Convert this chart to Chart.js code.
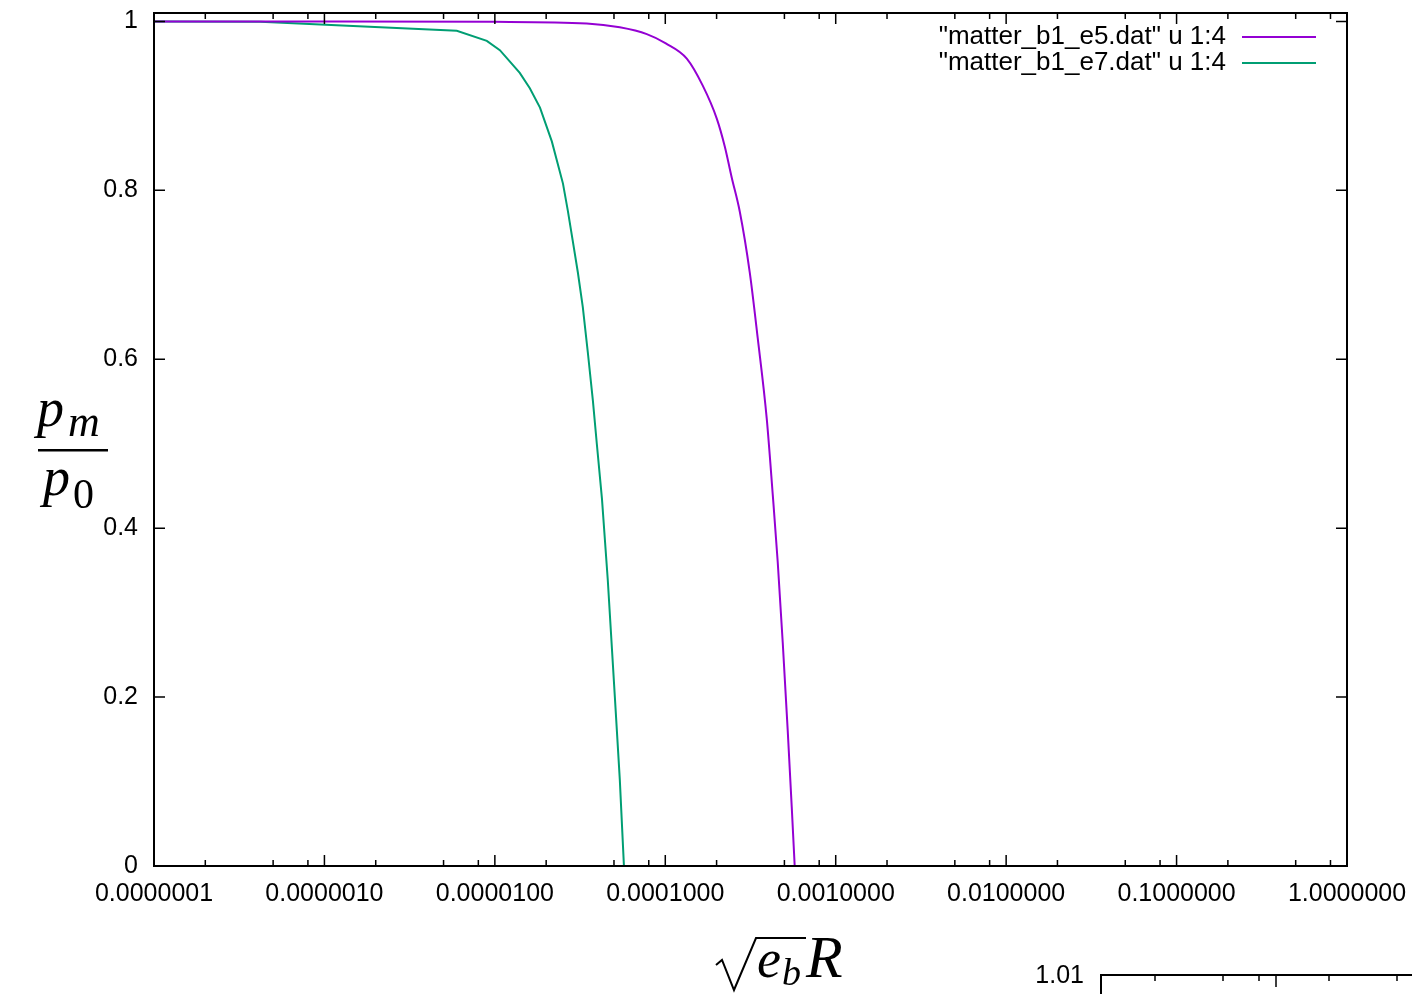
<!DOCTYPE html>
<html>
<head>
<meta charset="utf-8">
<script src="https://cdn.jsdelivr.net/npm/chart.js@4/dist/chart.umd.min.js"></script>
<style>
  body { margin: 0; background: #fff; }
  #wrap { width: 1412px; height: 994px; position: relative; }
</style>
</head>
<body>
<div id="wrap"><canvas id="mychart"></canvas></div>
<script>
// data
var e5X = [1e-7, 1e-6, 1e-5, 3.46e-5, 5.41e-5, 7.79e-5, 1.007e-4, 1.337e-4, 1.659e-4, 2.005e-4,
           2.234e-4, 2.455e-4, 2.735e-4, 3.13e-4, 3.487e-4, 3.937e-4, 4.27e-4, 4.568e-4, 4.887e-4,
           5.23e-4, 5.52e-4, 5.745e-4];
var e5Y = [1.0, 1.0, 0.9995, 0.9976, 0.993, 0.985, 0.974, 0.956, 0.924, 0.885,
           0.852, 0.815, 0.775, 0.703, 0.625, 0.530, 0.440, 0.360, 0.265,
           0.160, 0.07, 0.0];
var e7X = [1e-7, 4.2e-7, 5.98e-6, 8.97e-6, 1.07e-5, 1.4e-5, 1.604e-5, 1.84e-5, 2.159e-5, 2.51e-5,
           2.68e-5, 2.86e-5, 3.068e-5, 3.28e-5, 3.512e-5, 3.76e-5, 3.965e-5, 4.25e-5, 4.6e-5,
           5.06e-5, 5.41e-5, 5.72e-5];
var e7Y = [1.0, 0.9995, 0.989, 0.977, 0.966, 0.939, 0.921, 0.898, 0.858, 0.808,
           0.776, 0.741, 0.703, 0.662, 0.608, 0.551, 0.50, 0.435, 0.338,
           0.2, 0.102, 0.0];
var seriesLabels = ['"matter_b1_e5.dat" u 1:4', '"matter_b1_e7.dat" u 1:4'];
var xTicks = [1e-7, 1e-6, 1e-5, 1e-4, 1e-3, 1e-2, 1e-1, 1];
var yTicks = [0, 0.2, 0.4, 0.6, 0.8, 1];
var yTickLabels = ['0', '0.2', '0.4', '0.6', '0.8', '1'];

function pts(xs, ys) {
  var out = [];
  for (var i = 0; i < xs.length; i++) out.push({x: xs[i], y: ys[i]});
  return out;
}

// gnuplot-like frame, inward ticks, legend and titles
var frame = {
  id: 'frame',
  afterDraw: function(chart) {
    var c = chart.ctx, a = chart.chartArea;
    var xs = chart.scales.x, ys = chart.scales.y;
    c.save();
    c.strokeStyle = '#000';
    c.lineWidth = 2;
    c.strokeRect(a.left, a.top, a.right - a.left, a.bottom - a.top);

    c.lineWidth = 1.5;
    c.beginPath();
    xTicks.forEach(function(v) {
      var px = xs.getPixelForValue(v);
      c.moveTo(px, a.bottom); c.lineTo(px, a.bottom - 11);
      c.moveTo(px, a.top); c.lineTo(px, a.top + 11);
      if (v < 1) {
        [2, 5, 8].forEach(function(m) {
          var q = xs.getPixelForValue(v * m);
          c.moveTo(q, a.bottom); c.lineTo(q, a.bottom - 6);
          c.moveTo(q, a.top); c.lineTo(q, a.top + 6);
        });
      }
    });
    yTicks.forEach(function(v) {
      var py = ys.getPixelForValue(v);
      c.moveTo(a.left, py); c.lineTo(a.left + 11, py);
      c.moveTo(a.right, py); c.lineTo(a.right - 11, py);
    });
    c.stroke();

    // legend
    c.font = '26px "Liberation Sans"';
    c.textAlign = 'right';
    c.textBaseline = 'middle';
    chart.data.datasets.forEach(function(ds, i) {
      var y = 37 + i * 26;
      c.fillStyle = '#000';
      c.fillText(ds.label, 1226, y);
      c.strokeStyle = ds.borderColor;
      c.lineWidth = 2;
      c.beginPath(); c.moveTo(1242, y); c.lineTo(1316, y); c.stroke();
    });

    // y title p_m / p_0
    c.fillStyle = '#000';
    c.textAlign = 'left';
    c.textBaseline = 'alphabetic';
    c.font = 'italic 54px "Liberation Serif"';
    c.fillText('p', 37, 426);
    c.font = 'italic 44px "Liberation Serif"';
    c.fillText('m', 68, 436);
    c.fillRect(38, 449, 70, 2.5);
    c.font = 'italic 54px "Liberation Serif"';
    c.fillText('p', 43, 495);
    c.font = '42px "Liberation Serif"';
    c.fillText('0', 73, 508);

    // x title sqrt(e_b) R
    c.strokeStyle = '#000';
    c.lineWidth = 2;
    c.beginPath();
    c.moveTo(716, 965); c.lineTo(722, 960); c.lineTo(734, 990); c.lineTo(756, 938); c.lineTo(806, 938);
    c.stroke();
    c.font = 'italic 54px "Liberation Serif"';
    c.fillText('e', 757, 977);
    c.font = 'italic 38px "Liberation Serif"';
    c.fillText('b', 782, 985);
    c.font = 'italic 60px "Liberation Serif"';
    c.fillText('R', 806, 977);

    // edge of the neighbouring plot, bottom right
    c.font = '25px "Liberation Sans"';
    c.textAlign = 'right';
    c.textBaseline = 'middle';
    c.fillText('1.01', 1084, 976);
    c.lineWidth = 2;
    c.beginPath();
    c.moveTo(1101, 994); c.lineTo(1101, 975); c.lineTo(1412, 975);
    c.stroke();
    c.lineWidth = 1.5;
    c.beginPath();
    [1155, 1223, 1259, 1329, 1397].forEach(function(px) { c.moveTo(px, 975); c.lineTo(px, 981); });
    c.moveTo(1276, 975); c.lineTo(1276, 987);
    c.stroke();
    c.restore();
  }
};

var ctx = document.getElementById('mychart');
var myChart = new Chart(ctx, {
  type: 'scatter',
  data: {
    datasets: [{
      label: seriesLabels[0],
      data: pts(e5X, e5Y),
      showLine: true,
      borderColor: '#9400d3',
      borderWidth: 2,
      pointRadius: 0,
      cubicInterpolationMode: 'monotone'
    }, {
      label: seriesLabels[1],
      data: pts(e7X, e7Y),
      showLine: true,
      borderColor: '#009e73',
      borderWidth: 2,
      pointRadius: 0,
      tension: 0
    }]
  },
  options: {
    responsive: true,
    maintainAspectRatio: false,
    animation: false,
    layout: { padding: { top: 13, right: 65, left: 0, bottom: 0 } },
    plugins: { legend: { display: false }, tooltip: { enabled: false } },
    scales: {
      x: {
        type: 'logarithmic',
        min: 1e-7,
        max: 1,
        grid: { display: false, drawTicks: false },
        border: { display: false },
        afterBuildTicks: function(axis) {
          axis.ticks = xTicks.map(function(v) { return {value: v}; });
        },
        afterFit: function(axis) {
          axis.height = 128;
          axis.paddingLeft = 0; axis.paddingRight = 0;
        },
        ticks: {
          autoSkip: false,
          maxRotation: 0,
          padding: 13,
          color: '#000',
          font: { family: 'Liberation Sans', size: 25 },
          callback: function(v) { return Number(v).toFixed(7); }
        }
      },
      y: {
        min: 0,
        max: 1.01,
        grid: { display: false, drawTicks: false },
        border: { display: false },
        afterBuildTicks: function(axis) {
          axis.ticks = yTicks.map(function(v) { return {value: v}; });
        },
        afterFit: function(axis) {
          axis.width = 154;
          axis.paddingTop = 0; axis.paddingBottom = 0;
        },
        ticks: {
          padding: 16,
          color: '#000',
          font: { family: 'Liberation Sans', size: 25 },
          callback: function(v) {
            var i = yTicks.indexOf(v);
            return i >= 0 ? yTickLabels[i] : '';
          }
        }
      }
    }
  },
  plugins: [frame]
});
</script>
</body>
</html>
